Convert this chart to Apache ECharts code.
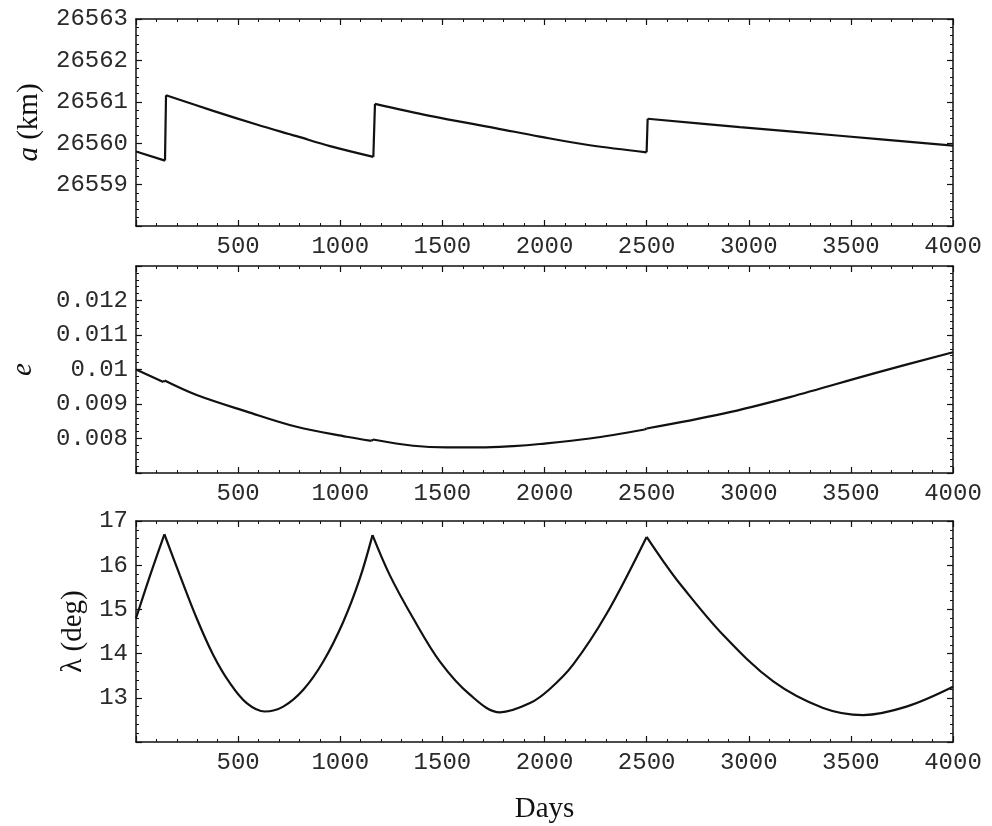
<!DOCTYPE html>
<html>
<head>
<meta charset="utf-8">
<script src="https://cdn.jsdelivr.net/npm/echarts@6/dist/echarts.min.js"></script>
<style>
  html, body { margin: 0; padding: 0; background: #fff; }
  #chart { width: 992px; height: 826px; }
</style>
</head>
<body>
<div id="chart"></div>
<script>
// semi-major axis a (km) vs days
const aDays = [0, 142, 147, 378, 591, 786, 950, 1162, 1170, 1439, 1765, 1977, 2222, 2500, 2505, 2956, 3446, 4000]
const aValues = [26559.80, 26559.58, 26561.16, 26560.78, 26560.45, 26560.17, 26559.93, 26559.67, 26560.95,
  26560.66, 26560.36, 26560.16, 26559.95, 26559.78, 26560.59, 26560.39, 26560.18, 26559.94]
// days where the a curve jumps
const aBreaks = [142, 147, 1162, 1170, 2500, 2505]

// eccentricity e vs days
const eDays = [0, 134, 140, 297, 542, 786, 1031, 1153, 1160, 1357, 1520, 1684, 1847, 1977, 2222, 2491, 2500, 2875, 3201, 3609, 4000]
const eValues = [0.01000, 0.00964, 0.00968, 0.00926, 0.00878, 0.00834, 0.00805, 0.00793, 0.00797, 0.00779, 0.00774,
  0.00774, 0.00778, 0.00784, 0.00800, 0.00826, 0.00829, 0.00872, 0.00920, 0.00988, 0.01050]
const eBreaks = [134, 140, 1153, 1160, 2491, 2500]

// longitude lambda (deg) vs days
const lamDays = [0, 69, 139, 215, 297, 378, 460, 542, 631, 721, 819, 917, 1015, 1096, 1158, 1243, 1357, 1488, 1635,
  1782, 1929, 2026, 2140, 2304, 2500, 2580, 2663, 2875, 3120, 3364, 3560, 3772, 4000]
const lamValues = [14.80, 15.77, 16.70, 15.77, 14.80, 13.97, 13.33, 12.88, 12.69, 12.80, 13.18, 13.82, 14.72, 15.70,
  16.68, 15.77, 14.80, 13.82, 13.07, 12.67, 12.88, 13.20, 13.75, 14.90, 16.64, 16.10, 15.58, 14.42, 13.37,
  12.77, 12.61, 12.80, 13.25]
// cusps (manoeuvre days)
const lamBreaks = [139, 1158, 2500]

// tick labels that are printed
const dayTicks = [500, 1000, 1500, 2000, 2500, 3000, 3500, 4000]
const aTicks = [26559, 26560, 26561, 26562, 26563]
const eTicks = [0.008, 0.009, 0.01, 0.011, 0.012]
const lamTicks = [13, 14, 15, 16, 17]

const monoFont = "Liberation Mono"
const serifFont = "Liberation Serif"

// cut a curve into pieces at the break days, the break point goes in both pieces
function split(xs, ys, breaks) {
  let parts = []
  let cur = []
  xs.forEach((x, i) => {
    cur.push([x, ys[i]])
    if (breaks.includes(x) && cur.length > 1) {
      parts.push(cur)
      cur = [[x, ys[i]]]
    }
  })
  if (cur.length > 1) parts.push(cur)
  return parts
}

function shown(list, v) {
  return list.some((t) => Math.abs(t - v) < 1e-7)
}

function xAxisFor(grid, position, labels) {
  return {
    type: "value",
    gridIndex: grid,
    position: position,
    min: 0,
    max: 4000,
    interval: 500,
    axisLine: { show: true, onZero: false, lineStyle: { color: "#111", width: 1.5 } },
    axisTick: { show: true, inside: true, length: 6, lineStyle: { color: "#111", width: 1.2 } },
    minorTick: { show: true, splitNumber: 5, length: 3, lineStyle: { color: "#111", width: 1 } },
    splitLine: { show: false },
    axisLabel: {
      show: labels,
      margin: 9,
      fontFamily: monoFont,
      fontSize: 24,
      color: "#2a2a2a",
      formatter: function (v) {
        return shown(dayTicks, v) ? String(v) : ""
      }
    }
  }
}

function yAxisFor(grid, position, min, max, interval, ticks, labels) {
  return {
    type: "value",
    gridIndex: grid,
    position: position,
    min: min,
    max: max,
    interval: interval,
    axisLine: { show: true, onZero: false, lineStyle: { color: "#111", width: 1.5 } },
    axisTick: { show: true, inside: true, length: 6, lineStyle: { color: "#111", width: 1.2 } },
    minorTick: { show: true, splitNumber: 5, length: 3, lineStyle: { color: "#111", width: 1 } },
    splitLine: { show: false },
    axisLabel: {
      show: labels,
      margin: 8,
      fontFamily: monoFont,
      fontSize: 24,
      color: "#2a2a2a",
      formatter: function (v) {
        let r = parseFloat(Number(v).toFixed(4))
        return shown(ticks, r) ? String(r) : ""
      }
    }
  }
}

let xAxes = []
let yAxes = []
for (let g = 0; g < 3; g++) {
  xAxes.push(xAxisFor(g, "bottom", true))
  xAxes.push(xAxisFor(g, "top", false))
}
yAxes.push(yAxisFor(0, "left", 26558, 26563, 1, aTicks, true))
yAxes.push(yAxisFor(0, "right", 26558, 26563, 1, aTicks, false))
yAxes.push(yAxisFor(1, "left", 0.007, 0.013, 0.001, eTicks, true))
yAxes.push(yAxisFor(1, "right", 0.007, 0.013, 0.001, eTicks, false))
yAxes.push(yAxisFor(2, "left", 12, 17, 1, lamTicks, true))
yAxes.push(yAxisFor(2, "right", 12, 17, 1, lamTicks, false))

// axis titles
const nameStyle = {
  fontFamily: serifFont,
  fontSize: 29,
  color: "#111",
  rich: {
    i: { fontFamily: serifFont, fontSize: 29, fontStyle: "italic", color: "#111" }
  }
}
yAxes[0].name = "{i|a} (km)"
yAxes[0].nameLocation = "middle"
yAxes[0].nameGap = 92
yAxes[0].nameTextStyle = nameStyle
yAxes[2].name = "{i|e}"
yAxes[2].nameLocation = "middle"
yAxes[2].nameGap = 98
yAxes[2].nameTextStyle = nameStyle
yAxes[4].name = "λ (deg)"
yAxes[4].nameLocation = "middle"
yAxes[4].nameGap = 36
yAxes[4].nameTextStyle = nameStyle
xAxes[4].name = "Days"
xAxes[4].nameLocation = "middle"
xAxes[4].nameGap = 53
xAxes[4].nameTextStyle = nameStyle

function lineSeries(xi, yi, data) {
  return {
    type: "line",
    xAxisIndex: xi,
    yAxisIndex: yi,
    data: data,
    showSymbol: false,
    symbol: "none",
    smooth: data.length > 2 ? 0.35 : false,
    animation: false,
    lineStyle: { color: "#111", width: 2.2 }
  }
}

let series = []
split(aDays, aValues, aBreaks).forEach((part) => series.push(lineSeries(0, 0, part)))
split(eDays, eValues, eBreaks).forEach((part) => series.push(lineSeries(2, 2, part)))
split(lamDays, lamValues, lamBreaks).forEach((part) => series.push(lineSeries(4, 4, part)))

let option = {
  animation: false,
  backgroundColor: "#fff",
  grid: [
    { left: 136, top: 19, width: 817, height: 207 },
    { left: 136, top: 266, width: 817, height: 207 },
    { left: 136, top: 521, width: 817, height: 221 }
  ],
  xAxis: xAxes,
  yAxis: yAxes,
  series: series
}

const myChart = echarts.init(document.getElementById("chart"))
window.addEventListener("resize", function () {
  myChart.resize()
})
myChart.setOption(option)
</script>
</body>
</html>
